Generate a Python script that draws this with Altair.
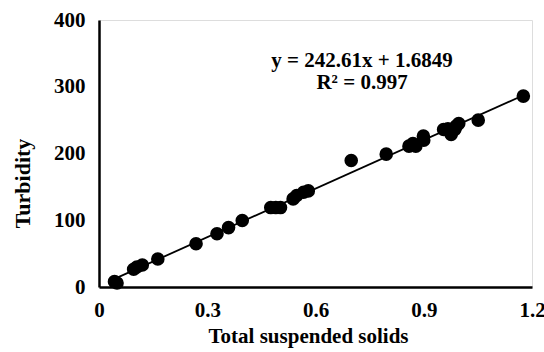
import altair as alt
import pandas as pd

tss = [0.043, 0.05, 0.096, 0.105, 0.12, 0.163, 0.269, 0.327, 0.359, 0.397,
       0.476, 0.49, 0.503, 0.538, 0.548, 0.567, 0.58, 0.699, 0.796, 0.859,
       0.87, 0.878, 0.899, 0.90, 0.955, 0.967, 0.976, 0.986, 0.99, 0.997,
       1.051, 1.176]
turb = [8, 6, 26.6, 30, 33, 42, 64.7, 79.7, 89, 99.7,
        119, 119, 119, 132, 137, 142, 144, 189.5, 199, 211,
        215, 211, 226, 220, 236, 237, 228.6, 236, 241, 245,
        250, 286]

ann_text = ["y = 242.61x + 1.6849", "R² = 0.997"]
ann_x = [0.729, 0.729]
ann_y = [339, 306]

df = pd.DataFrame({"x": tss, "y": turb})
ann = pd.DataFrame({"t": ann_text, "x": ann_x, "y": ann_y})

FONT = "Liberation Serif"
FS = 21

xs = alt.Scale(domain=[0, 1.2], nice=False, zero=False)
ys = alt.Scale(domain=[0, 400], nice=False)

xax = alt.Axis(values=[0, 0.3, 0.6, 0.9, 1.2], format="~g", ticks=False, grid=False,
               domainColor="black", domainWidth=2.5, labelFont=FONT, labelFontSize=FS,
               labelFontWeight="bold", labelColor="black", labelPadding=12,
               title="Total suspended solids", titleFont=FONT, titleFontSize=FS,
               titleFontWeight="bold", titleColor="black", titleX=209, titleY=49,
               titleBaseline="middle", labelFlush=False)
yax = alt.Axis(values=[0, 100, 200, 300, 400], ticks=False, grid=False,
               domainColor="black", domainWidth=2.5, labelFont=FONT, labelFontSize=FS,
               labelFontWeight="bold", labelColor="black", labelPadding=14,
               title="Turbidity", titleFont=FONT, titleFontSize=FS + 1,
               titleFontWeight="bold", titleColor="black", titleX=-77, titleY=163,
               titleBaseline="middle", titleAlign="center", titleAngle=-90)

base = alt.Chart(df)
pts = base.mark_circle(size=185, color="black", opacity=1).encode(
    x=alt.X("x:Q", scale=xs, axis=xax),
    y=alt.Y("y:Q", scale=ys, axis=yax),
)
line = base.transform_regression("x", "y").mark_line(color="black", strokeWidth=1.8).encode(
    x=alt.X("x:Q", scale=xs), y=alt.Y("y:Q", scale=ys))
txt = alt.Chart(ann).mark_text(font=FONT, fontSize=FS, fontWeight="bold", color="black",
                               align="center", baseline="middle").encode(
    x=alt.X("x:Q", scale=xs), y=alt.Y("y:Q", scale=ys), text="t:N")

chart = alt.layer(line, pts, txt).properties(
    width=433, height=267,
    autosize=alt.AutoSizeParams(type="none"),
    padding={"left": 99, "top": 20, "right": 12, "bottom": 65},
).configure_view(stroke=None).configure(background="white")

chart.save("out.html", embed_options={"renderer": "svg", "actions": False})
